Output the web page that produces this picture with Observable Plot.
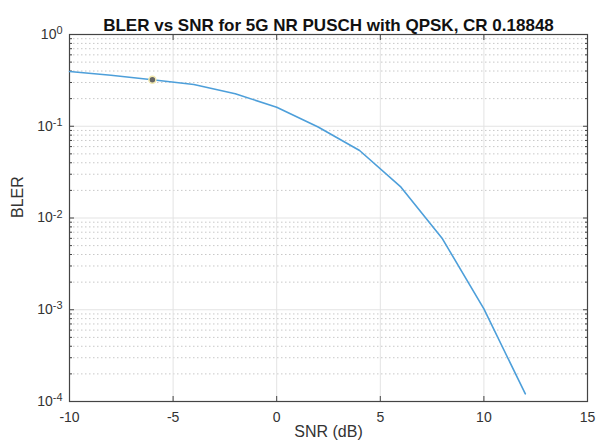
<!DOCTYPE html>
<html>
<head>
<meta charset="utf-8">
<script src="https://cdn.jsdelivr.net/npm/d3@7"></script>
<script src="https://cdn.jsdelivr.net/npm/@observablehq/plot@0.6"></script>
<style>
  html, body { margin: 0; padding: 0; background: #fff; }
</style>
</head>
<body>
<div id="chart"></div>
<script>
const titleText = "BLER vs SNR for 5G NR PUSCH with QPSK, CR 0.18848";
const xLabel = "SNR (dB)";
const yLabel = "BLER";
const snr = [-10, -8, -6, -4, -2, 0, 2, 4, 6, 8, 10, 12];
const bler = [0.395, 0.36, 0.321, 0.285, 0.226, 0.161, 0.098, 0.0544, 0.0217, 0.00593, 0.00102, 0.000121];
const markerSnr = [-6];
const markerBler = [0.321];
const xTicks = [-10, -5, 0, 5, 10, 15];
const yTicks = [1e-4, 1e-3, 1e-2, 1e-1, 1];
const minorMult = [2, 3, 4, 5, 6, 7, 8, 9];

const data = snr.map((s, i) => ({snr: s, bler: bler[i]}));
const marker = markerSnr.map((s, i) => ({snr: s, bler: markerBler[i]}));
const minorTicks = [];
for (const d of yTicks.slice(0, -1)) for (const m of minorMult) minorTicks.push(d * m);

const svg = Plot.plot({
  width: 598,
  height: 446,
  marginLeft: 69,
  marginRight: 11,
  marginTop: 34,
  marginBottom: 45,
  style: {fontFamily: "'Liberation Sans', Arial, sans-serif", fontSize: "12px", color: "#333", background: "#fff"},
  x: {domain: [-10, 15]},
  y: {type: "log", domain: [1e-4, 1]},
  marks: [
    Plot.ruleY(minorTicks, {stroke: "#c8c8c8", strokeDasharray: "1.5,2.5", strokeWidth: 1}),
    Plot.ruleY(yTicks, {stroke: "#e3e3e3", strokeWidth: 1}),
    Plot.ruleX(xTicks, {stroke: "#e3e3e3", strokeWidth: 1}),
    Plot.axisX({ticks: xTicks, tickSize: 0, tickPadding: 11, label: null, tickFormat: d => String(d), fontSize: 14}),
    Plot.axisX({ticks: xTicks, tickSize: -5, tickFormat: () => "", label: null, stroke: "#444"}),
    Plot.axisX({ticks: xTicks, anchor: "top", tickSize: -5, tickFormat: () => "", label: null, stroke: "#444"}),
    Plot.axisY({ticks: yTicks, tickSize: 0, tickPadding: 7, label: null, tickFormat: d => "10^" + Math.round(Math.log10(d)), fontSize: 14}),
    Plot.axisY({ticks: yTicks, tickSize: -5, tickFormat: () => "", label: null, stroke: "#444"}),
    Plot.axisY({ticks: minorTicks, tickSize: -3, tickFormat: () => "", label: null, stroke: "#444"}),
    Plot.axisY({ticks: yTicks, anchor: "right", tickSize: -5, tickFormat: () => "", label: null, stroke: "#444"}),
    Plot.axisY({ticks: minorTicks, anchor: "right", tickSize: -3, tickFormat: () => "", label: null, stroke: "#444"}),
    Plot.frame({stroke: "#444", strokeWidth: 1.2}),
    Plot.line(data, {x: "snr", y: "bler", stroke: "#4d9fda", strokeWidth: 1.6}),
    Plot.dot(marker, {x: "snr", y: "bler", r: 3.5, fill: "#666", stroke: "#f3eab0", strokeWidth: 1.5}),
    Plot.text([titleText], {frameAnchor: "top", dy: -16, fontWeight: "bold", fontSize: 17, fill: "#111"}),
    Plot.text([yLabel], {frameAnchor: "left", dx: -52, rotate: -90, fontSize: 16, fill: "#333"}),
    Plot.text([xLabel], {frameAnchor: "bottom", dy: 35, fontSize: 16, fill: "#333"})
  ]
});

d3.select(svg).selectAll('g[aria-label="y-axis tick label"] text').each(function() {
  const t = this.textContent;
  if (!t.includes("^")) return;
  const [b, e] = t.split("^");
  this.textContent = "";
  d3.select(this).append("tspan").text(b);
  d3.select(this).append("tspan").attr("dy", "-0.45em").attr("font-size", "0.78em").text(e);
});

document.getElementById("chart").appendChild(svg);
</script>
</body>
</html>
